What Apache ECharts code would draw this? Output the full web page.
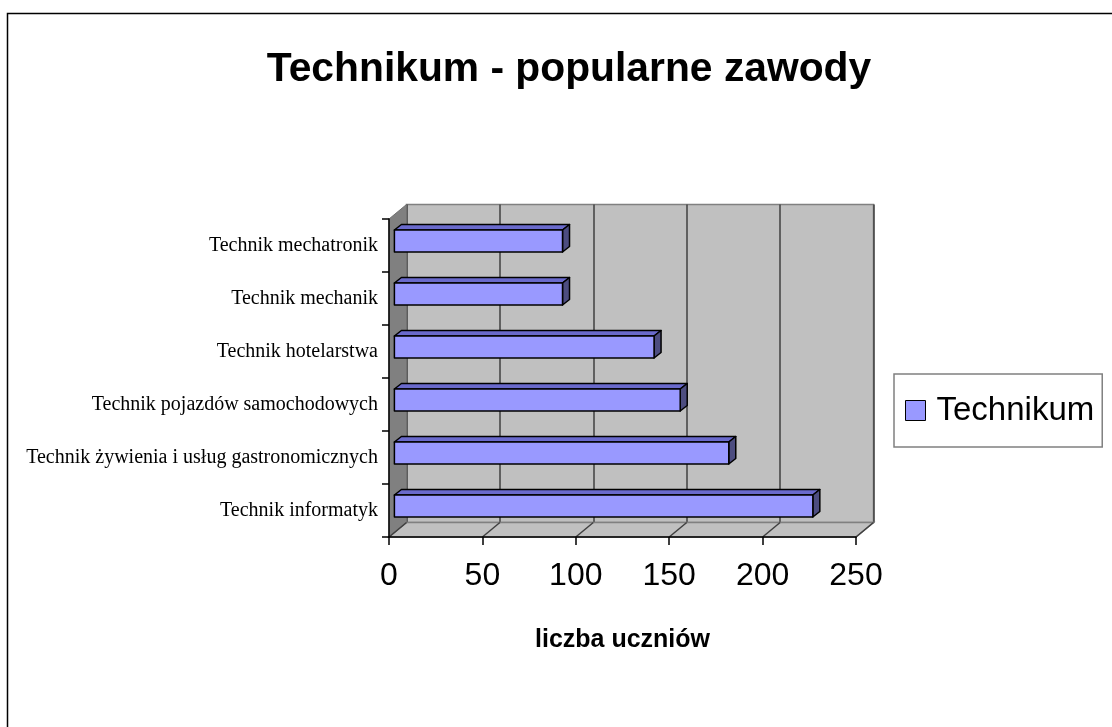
<!DOCTYPE html>
<html>
<head>
<meta charset="utf-8">
<script src="https://cdn.jsdelivr.net/npm/echarts@6/dist/echarts.min.js"></script>
<style>
html, body { margin: 0; padding: 0; background: #fff; }
#chart { width: 1112px; height: 727px; }
</style>
</head>
<body>
<div id="chart"></div>
<script>
// data, top to bottom as on the chart
var categories = [
	'Technik mechatronik',
	'Technik mechanik',
	'Technik hotelarstwa',
	'Technik pojazdów samochodowych',
	'Technik żywienia i usług gastronomicznych',
	'Technik informatyk'
];
var values = [90, 90, 139, 153, 179, 224];
var xTicks = [0, 50, 100, 150, 200, 250];
var seriesName = 'Technikum';

// fake 3d: offset of back wall and of the bars
var DEPTH = [17.5, -14.5];
var BAR_SHIFT = [5.4, -4.5];
var BAR_DEPTH = [7, -5.5];

var chart = echarts.init(document.getElementById('chart'));

function renderWalls(params, api){
	var cs = params.coordSys;
	var x = api.coord([api.value(0), 0])[0];
	var bottom = cs.y + cs.height;
	var children = [];
	if (params.dataIndex === 0) {
		children.push({
			type: 'polygon',
			shape: { points: [[cs.x, bottom], [cs.x + cs.width, bottom], [cs.x + cs.width + DEPTH[0], bottom + DEPTH[1]], [cs.x + DEPTH[0], bottom + DEPTH[1]]] },
			style: { fill: '#c0c0c0', stroke: '#808080', lineWidth: 1.5 }
		});
		children.push({
			type: 'polygon',
			shape: { points: [[cs.x, cs.y], [cs.x + DEPTH[0], cs.y + DEPTH[1]], [cs.x + DEPTH[0], bottom + DEPTH[1]], [cs.x, bottom]] },
			style: { fill: '#808080', stroke: '#707070', lineWidth: 1 }
		});
	}
	children.push({
		type: 'line',
		shape: { x1: x, y1: bottom, x2: x + DEPTH[0], y2: bottom + DEPTH[1] },
		style: { stroke: '#404040', lineWidth: 1.5 }
	});
	return { type: 'group', children: children };
}

function renderBar(params, api){
	var idx = api.value(1);
	var p0 = api.coord([0, idx]);
	var p1 = api.coord([api.value(0), idx]);
	var h = api.size([0, 1])[1] * 0.415;
	var x0 = p0[0] + BAR_SHIFT[0], x1 = p1[0] + BAR_SHIFT[0];
	var yTop = p0[1] + BAR_SHIFT[1] - h / 2, yBot = yTop + h;
	var dx = BAR_DEPTH[0], dy = BAR_DEPTH[1];
	var edge = { stroke: '#000', lineWidth: 1.5, lineJoin: 'round' };
	return {
		type: 'group',
		children: [
			{ type: 'polygon', shape: { points: [[x0, yTop], [x1, yTop], [x1 + dx, yTop + dy], [x0 + dx, yTop + dy]] },
				style: Object.assign({ fill: '#6a6acc' }, edge) },
			{ type: 'polygon', shape: { points: [[x1, yTop], [x1 + dx, yTop + dy], [x1 + dx, yBot + dy], [x1, yBot]] },
				style: Object.assign({ fill: '#4d4d80' }, edge) },
			{ type: 'rect', shape: { x: x0, y: yTop, width: x1 - x0, height: h },
				style: Object.assign({ fill: '#9999ff' }, edge) }
		]
	};
}

var front = { left: 389, top: 219, width: 467, height: 318 };

option = {
	backgroundColor: '#fff',
	animation: false,
	title: {
		text: 'Technikum - popularne zawody',
		left: 564,
		top: 44,
		textAlign: 'center',
		textStyle: { fontFamily: 'Liberation Sans', fontSize: 40.8, fontWeight: 'bold', color: '#000' }
	},
	legend: {
		left: 894,
		top: 374,
		orient: 'vertical',
		padding: [20, 8, 20, 11],
		borderColor: '#808080',
		borderWidth: 1.5,
		itemWidth: 20,
		itemHeight: 20,
		data: [{ name: seriesName, icon: 'rect', itemStyle: { color: '#9999ff', borderColor: '#000', borderWidth: 1 } }],
		textStyle: { fontFamily: 'Liberation Sans', fontSize: 33, color: '#000', padding: [0, 0, 0, 6] }
	},
	graphic: [{
		type: 'rect',
		shape: { x: 7.5, y: 13.5, width: 1200, height: 800 },
		style: { fill: null, stroke: '#000', lineWidth: 1.5 },
		silent: true
	}],
	grid: [
		{ left: front.left, top: front.top, width: front.width, height: front.height },
		{ left: front.left + DEPTH[0], top: front.top + DEPTH[1], width: front.width, height: front.height,
			show: true, backgroundColor: '#c0c0c0', borderColor: '#808080', borderWidth: 1.5 }
	],
	xAxis: [
		{
			gridIndex: 0, type: 'value', min: 0, max: 250, interval: 50, z: 5,
			name: 'liczba uczniów', nameLocation: 'middle', nameGap: 91,
			nameTextStyle: { fontFamily: 'Liberation Sans', fontSize: 25, fontWeight: 'bold', color: '#000' },
			axisLine: { show: true, lineStyle: { color: '#000', width: 1.5 } },
			axisTick: { show: true, length: 8, lineStyle: { color: '#000', width: 1.5 } },
			axisLabel: { fontFamily: 'Liberation Sans', fontSize: 32, color: '#000', margin: 23 },
			splitLine: { show: false }
		},
		{
			gridIndex: 1, type: 'value', min: 0, max: 250, interval: 50,
			axisLine: { show: false }, axisTick: { show: false }, axisLabel: { show: false },
			splitLine: { show: true, lineStyle: { color: '#404040', width: 1.5 } }
		}
	],
	yAxis: [
		{
			gridIndex: 0, type: 'category', data: categories, inverse: true, z: 5,
			axisLine: { show: true, lineStyle: { color: '#000', width: 1.5 } },
			axisTick: { show: true, length: 7, lineStyle: { color: '#000', width: 1.5 } },
			axisLabel: { fontFamily: 'Liberation Serif', fontSize: 20, color: '#000', margin: 11 }
		},
		{
			gridIndex: 1, type: 'category', data: categories, inverse: true, show: false
		}
	],
	series: [
		{
			type: 'custom',
			xAxisIndex: 0, yAxisIndex: 0,
			z: 1,
			silent: true,
			renderItem: renderWalls,
			data: xTicks.map(function(v){ return [v, 0]; })
		},
		{
			name: seriesName,
			type: 'custom',
			xAxisIndex: 0, yAxisIndex: 0,
			z: 3,
			itemStyle: { color: '#9999ff' },
			renderItem: renderBar,
			encode: { x: 0, y: 1 },
			data: values.map(function(v, i){ return [v, i]; })
		}
	]
};
chart.setOption(option);
</script>
</body>
</html>
